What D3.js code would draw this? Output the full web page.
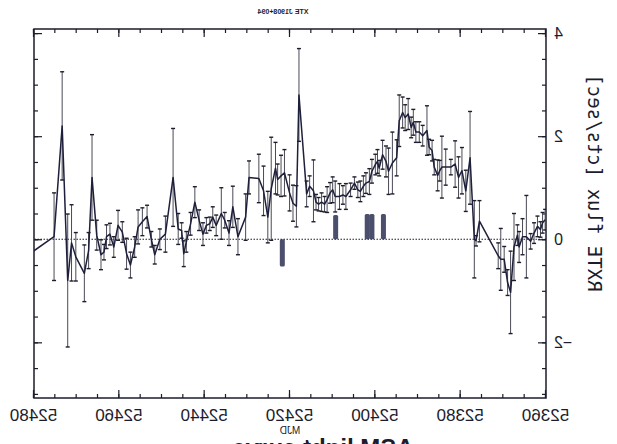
<!DOCTYPE html>
<html>
<head>
<meta charset="utf-8">
<script src="https://cdn.jsdelivr.net/npm/d3@7"></script>
<style>
  body { margin: 0; background: #fff; }
  svg { display: block; }
</style>
</head>
<body>
<div id="plot"></div>
<script>
// light curve
var mjd = [52482.0, 52475.3, 52473.4, 52472.1, 52471.2, 52470.2, 52468.2, 52467.2, 52466.4, 52465.3,
  52464.3, 52463.6, 52463.0, 52462.2, 52461.3, 52460.3, 52459.3, 52458.3, 52457.4, 52456.4,
  52455.6, 52454.6, 52453.5, 52452.5, 52451.7, 52450.5, 52449.2, 52447.4, 52446.2, 52445.4,
  52444.9, 52444.3, 52443.3, 52442.3, 52441.3, 52440.4, 52439.6, 52438.8, 52438.1, 52437.3,
  52436.1, 52435.3, 52434.3, 52433.4, 52432.2, 52430.4, 52429.6, 52427.3, 52426.2, 52425.2,
  52424.4, 52423.4, 52422.9, 52422.1, 52421.3, 52420.1, 52419.3, 52418.5, 52417.9, 52416.1,
  52415.4, 52414.5, 52413.9, 52413.3, 52412.6, 52411.9, 52411.3, 52410.6, 52410.0, 52409.4,
  52408.4, 52407.6, 52406.9, 52405.8, 52404.9, 52404.1, 52403.5, 52402.8, 52402.2, 52401.4,
  52400.8, 52400.0, 52399.5, 52399.1, 52398.3, 52397.5, 52396.9, 52396.0, 52395.0, 52394.4,
  52393.6, 52393.0, 52392.3, 52391.6, 52391.1, 52390.5, 52389.7, 52388.9, 52387.9, 52387.4,
  52386.7, 52386.2, 52385.4, 52384.9, 52384.4, 52383.5, 52382.3, 52381.3, 52380.5, 52379.7,
  52378.8, 52377.8, 52376.8, 52376.4, 52375.6, 52371.2, 52370.6, 52369.8, 52369.0, 52368.3,
  52367.5, 52366.7, 52366.3, 52365.5, 52364.6, 52363.6, 52362.8, 52362.0, 52361.3, 52360.8, 52360.2];
var flux = [-0.34, 0.05, 2.2, -0.8, -0.07, -0.34, -0.66, -0.22, 1.2, 0.08,
  -0.3, -0.25, 0.05, 0.1, -0.15, 0.27, 0.14, -0.28, -0.5, -0.15,
  0.24, 0.34, 0.44, 0.0, -0.3, 0.0, 0.1, 1.2, 0.2, 0.17,
  -0.28, -0.05, 0.3, 0.72, 0.37, 0.1, 0.27, 0.3, 0.43, 0.27,
  0.5, 0.37, 0.12, 0.63, 0.05, 0.43, 1.2, 1.18, 0.94, 0.43,
  0.98, 1.38, 1.16, 1.23, 1.29, 0.9, 0.7, 0.64, 2.8, 0.88,
  1.03, 0.94, 0.72, 0.68, 0.72, 0.68, 0.77, 0.9, 0.96, 0.83,
  0.83, 0.86, 0.83, 0.96, 1.09, 0.96, 0.93, 1.03, 1.09, 1.12,
  1.32, 1.45, 1.51, 1.38, 1.64, 1.51, 1.32, 1.48, 1.58, 2.3,
  2.46, 2.36, 2.43, 2.17, 2.27, 2.08, 2.08, 2.01, 2.11, 1.79,
  1.72, 1.4, 1.24, 1.33, 1.4, 1.4, 1.4, 1.46, 1.2, 1.33,
  0.94, 1.58, 0.0, -0.03, 0.35, -0.32, -0.39, -0.39, -0.84, -1.03,
  -0.15, 0.08, -0.15, 0.05, 0.05, -0.04, 0.12, 0.25, 0.19, 0.32, 0.38];
var fluxErr = [0.3, 0.85, 1.05, 1.29, 0.74, 0.47, 0.55, 0.35, 0.83, 0.29,
  0.29, 0.15, 0.23, 0.21, 0.2, 0.29, 0.2, 0.3, 0.25, 0.2,
  0.33, 0.27, 0.22, 0.15, 0.18, 0.2, 0.35, 0.95, 0.3, 0.15,
  0.25, 0.2, 0.22, 0.3, 0.2, 0.22, 0.15, 0.13, 0.2, 0.2,
  0.5, 0.15, 0.24, 0.4, 0.35, 0.45, 0.32, 0.47, 0.48, 0.5,
  1.0, 0.5, 0.3, 0.4, 0.45, 0.35, 0.35, 0.4, 0.9, 0.25,
  0.2, 0.6, 0.15, 0.13, 0.18, 0.15, 0.25, 0.2, 0.25, 0.3,
  0.25, 0.18, 0.25, 0.13, 0.12, 0.15, 0.2, 0.2, 0.2, 0.25,
  0.23, 0.2, 0.23, 0.15, 0.28, 0.3, 0.45, 0.6, 0.35, 0.5,
  0.3, 0.25, 0.3, 0.2, 0.25, 0.2, 0.2, 0.2, 0.48, 0.15,
  0.2, 0.15, 0.3, 0.2, 0.6, 0.35, 0.15, 0.45, 0.4, 0.45,
  0.4, 0.9, 0.75, 0.1, 0.4, 0.25, 0.6, 0.25, 0.25, 0.8,
  0.65, 0.2, 0.3, 0.35, 0.8, 0.15, 0.2, 0.2, 0.15, 0.2, 0.2];

// dark marks standing on the zero line
var blobMjd = [52421.8, 52409.3, 52401.9, 52400.8, 52398.1];
var blobFlux = [-0.53, 0.47, 0.49, 0.49, 0.49];

var xMajor = [52360, 52380, 52400, 52420, 52440, 52460, 52480];
var xMinor = d3.range(52360, 52481, 5);
var yMajor = [-2, 0, 2, 4];
var yMinor = d3.range(-3, 4.01, 0.5);

var W = 617, H = 444;
var box = {left: 71, right: 583, top: 29, bottom: 398};

var x = d3.scaleLinear().domain([52360, 52480]).range([box.left, box.right]);
var y = d3.scaleLinear().domain([-3.08, 4.08]).range([box.bottom, box.top]);

var svg = d3.select("#plot").append("svg")
    .attr("width", W)
    .attr("height", H);

// the scan is mirrored left-right, so draw normally and flip
var g = svg.append("g")
    .attr("transform", "translate(" + W + ",0) scale(-1,1)");

svg.append("defs").append("clipPath").attr("id", "clip")
  .append("rect")
    .attr("x", box.left).attr("y", box.top)
    .attr("width", box.right - box.left).attr("height", box.bottom - box.top);

var ink = "#1c1c2c";

function axisStyle(sel) {
  sel.select(".domain").remove();
  sel.selectAll(".tick line").attr("stroke", ink).attr("stroke-width", 1.2);
  sel.selectAll("text").attr("fill", ink).attr("font-family", "Liberation Sans, Arial, sans-serif");
}

// bottom
g.append("g").attr("transform", "translate(0," + box.bottom + ")")
  .call(d3.axisBottom(x).tickValues(xMinor).tickFormat("").tickSize(-4).tickSizeOuter(0))
  .call(axisStyle);
g.append("g").attr("transform", "translate(0," + box.bottom + ")")
  .call(d3.axisBottom(x).tickValues(xMajor).tickFormat(d3.format("d")).tickSize(-8).tickSizeOuter(0).tickPadding(11))
  .call(axisStyle)
  .call(s => s.selectAll("text").attr("font-size", 17));
// top
g.append("g").attr("transform", "translate(0," + box.top + ")")
  .call(d3.axisTop(x).tickValues(xMinor).tickFormat("").tickSize(-4).tickSizeOuter(0))
  .call(axisStyle);
g.append("g").attr("transform", "translate(0," + box.top + ")")
  .call(d3.axisTop(x).tickValues(xMajor).tickFormat("").tickSize(-8).tickSizeOuter(0))
  .call(axisStyle);
// left
g.append("g").attr("transform", "translate(" + box.left + ",0)")
  .call(d3.axisLeft(y).tickValues(yMinor).tickFormat("").tickSize(-4).tickSizeOuter(0))
  .call(axisStyle);
g.append("g").attr("transform", "translate(" + box.left + ",0)")
  .call(d3.axisLeft(y).tickValues(yMajor).tickFormat(d3.format("d")).tickSize(-8).tickSizeOuter(0).tickPadding(8))
  .call(axisStyle)
  .call(s => s.selectAll("text").attr("font-size", 16));
// right
g.append("g").attr("transform", "translate(" + box.right + ",0)")
  .call(d3.axisRight(y).tickValues(yMinor).tickFormat("").tickSize(-4).tickSizeOuter(0))
  .call(axisStyle);
g.append("g").attr("transform", "translate(" + box.right + ",0)")
  .call(d3.axisRight(y).tickValues(yMajor).tickFormat("").tickSize(-8).tickSizeOuter(0))
  .call(axisStyle);

g.append("rect")
    .attr("x", box.left).attr("y", box.top)
    .attr("width", box.right - box.left).attr("height", box.bottom - box.top)
    .attr("fill", "none")
    .attr("stroke", ink)
    .attr("stroke-width", 1.5);

// zero line
g.append("line")
    .attr("x1", box.left).attr("x2", box.right)
    .attr("y1", y(0)).attr("y2", y(0))
    .attr("stroke", ink)
    .attr("stroke-width", 1.1)
    .attr("stroke-dasharray", "1.5,1.5");

var pts = mjd.map((d, i) => ({t: d, v: flux[i], e: fluxErr[i]}));

var plotArea = g.append("g").attr("clip-path", "url(#clip)");

// error bars
var eb = plotArea.append("g")
    .attr("stroke", "#4a4a55")
    .attr("stroke-width", 1);
eb.selectAll("line.bar").data(pts).join("line")
    .attr("class", "bar")
    .attr("x1", d => x(d.t)).attr("x2", d => x(d.t))
    .attr("y1", d => y(d.v - d.e)).attr("y2", d => y(d.v + d.e));
eb.selectAll("line.capt").data(pts).join("line")
    .attr("class", "capt")
    .attr("x1", d => x(d.t) - 2).attr("x2", d => x(d.t) + 2)
    .attr("y1", d => y(d.v + d.e)).attr("y2", d => y(d.v + d.e))
    .attr("stroke", ink).attr("stroke-width", 1.4);
eb.selectAll("line.capb").data(pts).join("line")
    .attr("class", "capb")
    .attr("x1", d => x(d.t) - 2).attr("x2", d => x(d.t) + 2)
    .attr("y1", d => y(d.v - d.e)).attr("y2", d => y(d.v - d.e))
    .attr("stroke", ink).attr("stroke-width", 1.4);

// marks on the zero line
plotArea.append("g").selectAll("rect")
  .data(blobMjd.map((d, i) => ({t: d, v: blobFlux[i]})))
  .join("rect")
    .attr("x", d => x(d.t) - 2.5)
    .attr("width", 5)
    .attr("y", d => Math.min(y(d.v), y(0)))
    .attr("height", d => Math.abs(y(d.v) - y(0)))
    .attr("rx", 1.5)
    .attr("fill", "#2b2f52")
    .attr("opacity", 0.85);

var line = d3.line().x(d => x(d.t)).y(d => y(d.v));
plotArea.append("path")
    .attr("d", line(pts))
    .attr("fill", "none")
    .attr("stroke", "#1e1f3a")
    .attr("stroke-width", 1.5)
    .attr("stroke-linejoin", "round");

// texts
g.append("text")
    .attr("x", (box.left + box.right) / 2)
    .attr("y", 434)
    .attr("text-anchor", "middle")
    .attr("font-family", "Liberation Sans, Arial, sans-serif")
    .attr("font-size", 10)
    .attr("fill", ink)
    .text("MJD");

g.append("text")
    .attr("transform", "translate(22," + 183 + ") rotate(-90)")
    .attr("text-anchor", "middle")
    .attr("dy", "0.35em")
    .attr("font-family", "DejaVu Sans Mono, Liberation Mono, monospace")
    .attr("font-size", 19)
    .attr("fill", ink)
    .text("RXTE flux [cts/sec]");

g.append("text")
    .attr("x", 334)
    .attr("y", 14)
    .attr("text-anchor", "middle")
    .attr("font-family", "Liberation Sans, Arial, sans-serif")
    .attr("font-size", 7)
    .attr("font-weight", "bold")
    .attr("fill", ink)
    .text("XTE J1908+094");

g.append("text")
    .attr("x", 294)
    .attr("y", 456)
    .attr("text-anchor", "middle")
    .attr("font-family", "Liberation Sans, Arial, sans-serif")
    .attr("font-size", 24)
    .attr("font-weight", "bold")
    .attr("fill", ink)
    .text("ASM light curve");
</script>
</body>
</html>
